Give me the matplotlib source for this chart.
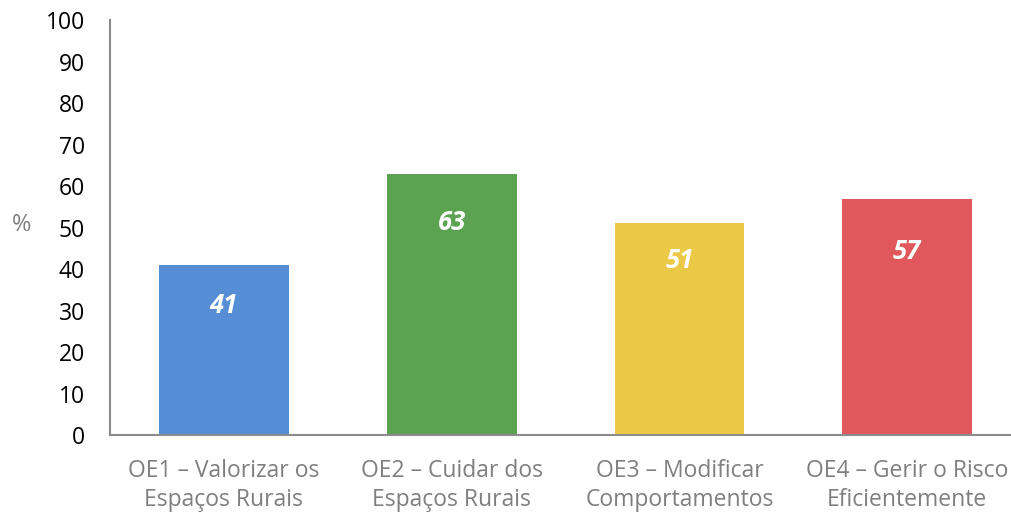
import matplotlib

matplotlib.use("Agg")
import matplotlib.pyplot as plt

categories = [
    "OE1 – Valorizar os\nEspaços Rurais",
    "OE2 – Cuidar dos\nEspaços Rurais",
    "OE3 – Modificar\nComportamentos",
    "OE4 – Gerir o Risco\nEficientemente",
]
values = [41, 63, 51, 57]
colors = ["#558ed5", "#5ba351", "#ebc846", "#e0585b"]
yticks = list(range(0, 101, 10))

# vertical offset of each value label below its bar top (points)
label_offsets = [29, 35, 27, 38]

plt.rcParams["font.family"] = ["Open Sans", "DejaVu Sans"]

fig = plt.figure(figsize=(10.12, 5.16), dpi=100)
ax = fig.add_axes([0.1087, 0.157, 0.8913, 0.804])

xs = list(range(len(categories)))
ax.bar(xs, values, width=0.57, color=colors, zorder=2)

for x, v, off in zip(xs, values, label_offsets):
    ax.annotate(
        f"{v}",
        (x, v),
        xytext=(0, -off),
        textcoords="offset points",
        ha="center",
        va="center",
        color="white",
        fontsize=18.5,
        fontweight="bold",
        fontstyle="italic",
    )

ax.set_xlim(-0.5, 3.46)
ax.set_ylim(0, 100)
ax.set_yticks(yticks)
ax.set_yticklabels([str(t) for t in yticks], fontsize=16.5, color="black")
ax.set_xticks(xs)
ax.set_xticklabels(categories, fontsize=16.5, color="#7f7f7f", linespacing=1.3)
ax.tick_params(axis="y", length=0, pad=18)
ax.tick_params(axis="x", length=0, pad=17)

for side in ("top", "right"):
    ax.spines[side].set_visible(False)
for side in ("left", "bottom"):
    ax.spines[side].set_color("#8c8c8c")
    ax.spines[side].set_linewidth(1.5)

fig.text(0.021, (516 - 225) / 516, "%", fontsize=17, color="#7f7f7f", ha="center", va="center")

fig.savefig("out.png", dpi=100)
